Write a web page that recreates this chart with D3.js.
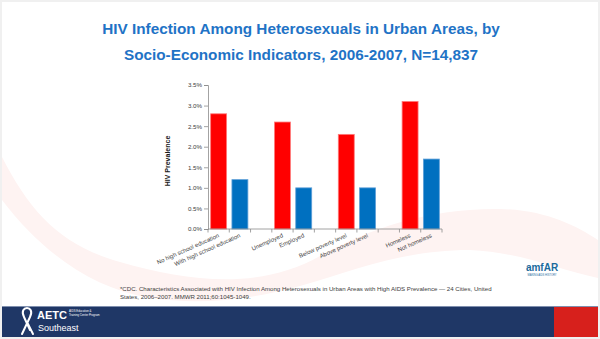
<!DOCTYPE html>
<html>
<head>
<meta charset="utf-8">
<script src="https://cdn.jsdelivr.net/npm/d3@7"></script>
<style>
  html, body { margin: 0; padding: 0; background: #f0f0f0; }
  svg { display: block; font-family: "Liberation Sans", Arial, sans-serif; }
</style>
</head>
<body>
<svg id="slide" width="600" height="339"></svg>
<script>
// Category slots along the x axis ("" = spacer between indicator pairs)
const slots = [
  "No high school education", "With high school education", "",
  "Unemployed", "Employed", "",
  "Below poverty level", "Above poverty level", "",
  "Homeless", "Not homeless"
];
// Bars: category, prevalence (%), group (risk vs. comparison)
const categories = [
  "No high school education", "With high school education",
  "Unemployed", "Employed",
  "Below poverty level", "Above poverty level",
  "Homeless", "Not homeless"
];
const prevalence = [2.8, 1.2, 2.6, 1.0, 2.3, 1.0, 3.1, 1.7];
const groups = ["risk", "comparison", "risk", "comparison", "risk", "comparison", "risk", "comparison"];
const yTicks = [0, 0.5, 1.0, 1.5, 2.0, 2.5, 3.0, 3.5];

const titleLines = [
  "HIV Infection Among Heterosexuals in Urban Areas, by",
  "Socio-Economic Indicators, 2006-2007, N=14,837"
];
const footnoteLines = [
  "*CDC. Characteristics Associated with HIV Infection Among Heterosexuals  in Urban Areas with High AIDS Prevalence \u2014 24 Cities, United",
  "States, 2006\u20132007. MMWR 2011;60:1045-1049."
];

const fill = { risk: "#ff0000", comparison: "#0070c0" };
const edge = { risk: "#ff7a7a", comparison: "#5fa0d8" };

const svg = d3.select("#slide");

// Slide background
svg.append("rect").attr("x", 2).attr("y", 2).attr("width", 596).attr("height", 335).attr("fill", "#ffffff");

// Soft pink swoosh behind the chart
svg.append("path")
  .attr("d", "M2,157 C30,212 60,245 120,262 C190,282 260,290 320,256 C370,228 430,208 500,209 C545,210 575,225 598,240" +
             " L598,278 C560,270 520,252 470,250 C400,250 350,272 300,286 C250,300 200,305 150,298 C90,288 40,250 2,200 Z")
  .attr("fill", "#fef3f2");

// Title
svg.append("g").selectAll("text").data(titleLines).join("text")
  .attr("x", 301).attr("y", (d, i) => 34 + i * 26)
  .attr("text-anchor", "middle")
  .attr("font-size", 15.3).attr("font-weight", "bold")
  .attr("fill", "#1f73c6")
  .text(d => d);

// Chart
const x0 = 208, x1 = 442, yTop = 85, yBase = 229;
const x = d3.scaleBand().domain(d3.range(slots.length)).range([x0, x1]).padding(0);
const y = d3.scaleLinear().domain([0, 3.5]).range([yBase, yTop]);
const bw = x.bandwidth();

const chart = svg.append("g");

// Bars
const slotIndex = categories.map(c => slots.indexOf(c));
chart.selectAll("rect.bar").data(prevalence).join("rect")
  .attr("class", "bar")
  .attr("x", (d, i) => x(slotIndex[i]) + bw * 0.125)
  .attr("width", bw * 0.75)
  .attr("y", d => y(d))
  .attr("height", d => y(0) - y(d))
  .attr("fill", (d, i) => fill[groups[i]])
  .attr("stroke", (d, i) => edge[groups[i]])
  .attr("stroke-width", 0.8);

// Y axis
const yAxis = d3.axisLeft(y).tickValues(yTicks).tickFormat(d => d.toFixed(1) + "%").tickSize(4).tickPadding(2);
const yg = chart.append("g").attr("transform", `translate(${x0},0)`).call(yAxis);
yg.select(".domain").attr("stroke", "#8c8c8c").attr("stroke-width", 0.8);
yg.selectAll(".tick line").attr("stroke", "#8c8c8c").attr("stroke-width", 0.8);
yg.selectAll(".tick text").attr("font-size", 6.2).attr("fill", "#404040")
  .attr("font-family", "\"Liberation Sans\", Arial, sans-serif");

// X axis line with tick marks between categories
chart.append("line").attr("x1", x0).attr("x2", x1).attr("y1", yBase).attr("y2", yBase)
  .attr("stroke", "#8c8c8c").attr("stroke-width", 0.8);
chart.selectAll("line.xt").data(d3.range(slots.length + 1)).join("line")
  .attr("class", "xt")
  .attr("x1", k => x0 + k * x.step()).attr("x2", k => x0 + k * x.step())
  .attr("y1", yBase).attr("y2", yBase + 3.5)
  .attr("stroke", "#8c8c8c").attr("stroke-width", 0.8);

// X category labels
chart.selectAll("text.xl").data(categories).join("text")
  .attr("class", "xl")
  .attr("transform", (d, i) => `translate(${x(slotIndex[i]) + bw / 2 + 1},${yBase + 8}) rotate(-24)`)
  .attr("text-anchor", "end")
  .attr("font-size", 6).attr("fill", "#404040")
  .text(d => d);

// Y axis title
svg.append("text")
  .attr("transform", `translate(170,${(yTop + yBase) / 2 + 4}) rotate(-90)`)
  .attr("text-anchor", "middle")
  .attr("font-size", 7).attr("font-weight", "bold").attr("fill", "#1a1a1a")
  .text("HIV Prevalence");

// Footnote
svg.append("g").selectAll("text").data(footnoteLines).join("text")
  .attr("x", 120).attr("y", (d, i) => 291 + i * 8)
  .attr("font-size", 6.1).attr("fill", "#404040")
  .text(d => d);

// amfAR logo
svg.append("text").attr("x", 542).attr("y", 271).attr("text-anchor", "middle")
  .attr("font-size", 10).attr("font-weight", "bold").attr("fill", "#1c6a9c").text("amfAR");
svg.append("text").attr("x", 542).attr("y", 276).attr("text-anchor", "middle")
  .attr("font-size", 2.6).attr("fill", "#1c6a9c").text("MAKING AIDS HISTORY");

// Footer band
svg.append("rect").attr("x", 2).attr("y", 306).attr("width", 552).attr("height", 31).attr("fill", "#1f3766");
svg.append("rect").attr("x", 554).attr("y", 306).attr("width", 44).attr("height", 31).attr("fill", "#d7201c");
svg.append("line").attr("x1", 2).attr("x2", 598).attr("y1", 306.5).attr("y2", 306.5)
  .attr("stroke", "#7f8fae").attr("stroke-width", 1);

// AETC ribbon + wordmark
svg.append("path")
  .attr("d", "M30,330 L24,317 C21,311 24,308 27,308 C30,308 33,311 30,317 L22,334 M27,322 L33,334")
  .attr("fill", "none").attr("stroke", "#ffffff").attr("stroke-width", 2).attr("stroke-linecap", "round");
svg.append("text").attr("x", 37).attr("y", 319).attr("font-size", 11).attr("font-weight", "bold")
  .attr("fill", "#ffffff").text("AETC");
svg.append("text").attr("x", 38).attr("y", 331).attr("font-size", 9)
  .attr("fill", "#ffffff").text("Southeast");
svg.append("text").attr("x", 69).attr("y", 312).attr("font-size", 2.8)
  .attr("fill", "#ffffff").text("AIDS Education &");
svg.append("text").attr("x", 69).attr("y", 316).attr("font-size", 2.8)
  .attr("fill", "#ffffff").text("Training Center Program");
</script>
</body>
</html>
